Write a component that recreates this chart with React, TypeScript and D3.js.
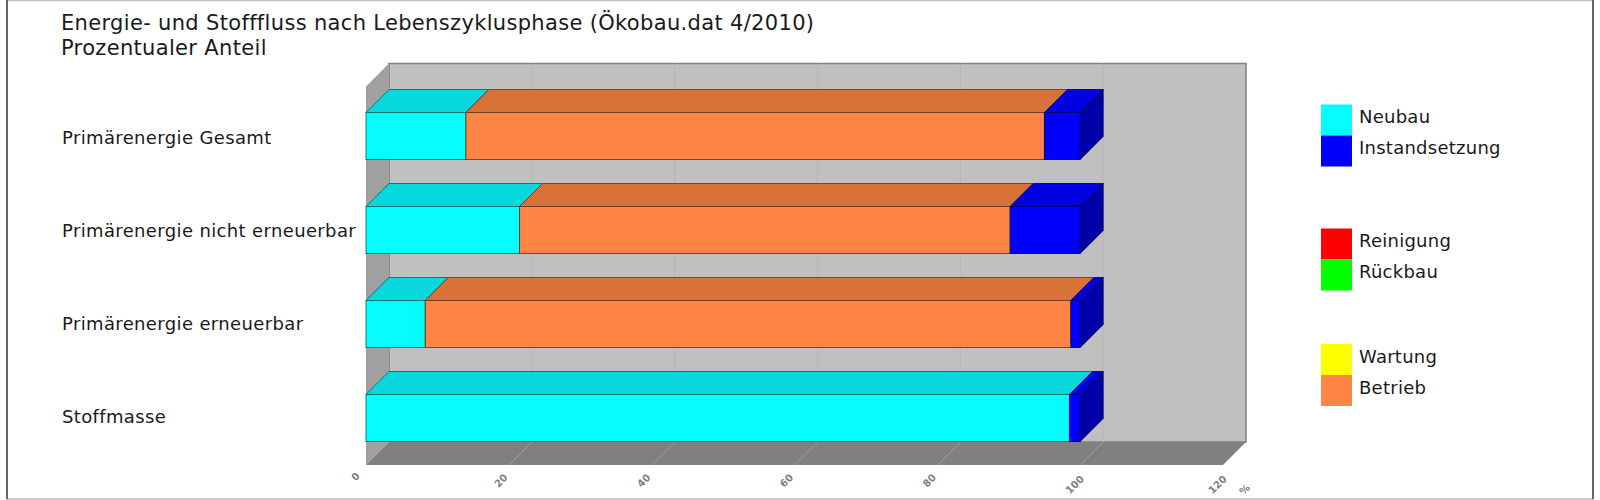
import React from 'react';
import * as d3 from 'd3';

const titleLines = ['Energie- und Stofffluss nach Lebenszyklusphase (Ökobau.dat 4/2010)', 'Prozentualer Anteil'];
const categories = ['Primärenergie Gesamt', 'Primärenergie nicht erneuerbar', 'Primärenergie erneuerbar', 'Stoffmasse'];
const seriesNames = ['Neubau', 'Betrieb', 'Instandsetzung', 'Reinigung', 'Rückbau', 'Wartung'];
const neubau = [14, 21.5, 8.3, 98.5];
const betrieb = [81, 68.7, 90.4, 0];
const instandsetzung = [5, 9.8, 1.3, 1.5];
const reinigung = [0, 0, 0, 0];
const rueckbau = [0, 0, 0, 0];
const wartung = [0, 0, 0, 0];
const xTicks = [0, 20, 40, 60, 80, 100, 120];
const legendGroups = [['Neubau', 'Instandsetzung'], ['Reinigung', 'Rückbau'], ['Wartung', 'Betrieb']];

const colors: Record<string, [string, string, string]> = {
  Neubau: ['#05fdff', '#08d8dc', '#00b0b0'],
  Betrieb: ['#fe8544', '#d97238', '#b05a2c'],
  Instandsetzung: ['#0000ff', '#0000e0', '#0000a8'],
  Reinigung: ['#ff0000', '#d80000', '#a80000'],
  'Rückbau': ['#00ff00', '#00d800', '#00a800'],
  Wartung: ['#ffff00', '#d8d800', '#a8a800'],
};

const FONT = '"DejaVu Sans", Verdana, sans-serif';
const DEPTH = 23;
const WALL_TOP = 86.5;
const x = d3.scaleLinear().domain([0, 120]).range([366, 1223]);
const y = d3.scaleBand<string>().domain(categories).range([89, 465]).paddingInner(0.5).paddingOuter(0.25);
const labelY = d3.scalePoint<string>().domain(categories).range([144, 423]);
const legendY = [104.5, 228.5, 344];
const SWATCH = 31;

const rows = categories.map((c, i) => ({
  category: c,
  Neubau: neubau[i],
  Betrieb: betrieb[i],
  Instandsetzung: instandsetzung[i],
  Reinigung: reinigung[i],
  'Rückbau': rueckbau[i],
  Wartung: wartung[i],
}));
const stacked = d3.stack<any>().keys(seriesNames)(rows);

const poly = (pts: [number, number][]) => d3.line()(pts) + 'Z';
const edge = (c: string) => d3.color(c)!.darker(2.5).formatHex();

export default function App() {
  const [x0, x1] = x.range();
  const y1 = y.range()[1];
  const backTop = WALL_TOP - DEPTH;
  return (
    <svg width={1600} height={500} style={{position: 'absolute', left: 0, top: 0}} fontFamily={FONT}>
      <rect x={7} y={0.5} width={1586} height={498.5} fill="#fff" stroke="#bdbdbd" strokeWidth={1.5} />
      <line x1={7} x2={7} y1={0} y2={499} stroke="#666" strokeWidth={2} />
      <line x1={1593} x2={1593} y1={0} y2={499} stroke="#666" strokeWidth={2} />

      {titleLines.map((t, i) => (
        <text key={t} x={61} y={29.5 + i * 25} fontSize={21} letterSpacing={0.33} fill="#1a1a1a">{t}</text>
      ))}

      {/* walls */}
      <path d={poly([[x0 + DEPTH, backTop], [x1 + DEPTH, backTop], [x1 + DEPTH, y1 - DEPTH], [x0 + DEPTH, y1 - DEPTH]])}
        fill="#c0c0c0" stroke="#808080" strokeWidth={1.5} />
      <path d={poly([[x0, WALL_TOP], [x0 + DEPTH, backTop], [x0 + DEPTH, y1 - DEPTH], [x0, y1]])} fill="#a0a0a0" />
      <path d={poly([[x0 + DEPTH, y1 - DEPTH], [x1 + DEPTH, y1 - DEPTH], [x1, y1], [x0, y1]])} fill="#808080" />
      <path d={poly([[x0, y1], [x0 + DEPTH, y1 - DEPTH], [x0, y1 - DEPTH]])} fill="#a0a0a0" />

      {/* grid */}
      {xTicks.slice(1, -1).map((t) => (
        <g key={t} fill="none" strokeWidth={1}>
          <line x1={x(t) + DEPTH} x2={x(t) + DEPTH} y1={backTop} y2={y1 - DEPTH} stroke="#b6b6b6" />
          <line x1={x(t) + DEPTH} x2={x(t)} y1={y1 - DEPTH} y2={y1} stroke="#9c9c9c" />
        </g>
      ))}

      {/* bars */}
      {categories.map((c, ci) => {
        const top = y(c)!;
        const bottom = top + y.bandwidth();
        const parts = stacked
          .map((s) => ({key: s.key, a: s[ci][0], b: s[ci][1]}))
          .filter((p) => p.b > p.a);
        const last = parts[parts.length - 1];
        return (
          <g key={c} strokeWidth={1}>
            {parts.map((p) => (
              <path key={p.key} fill={colors[p.key][1]} stroke={edge(colors[p.key][0])} strokeOpacity={0.85}
                d={poly([[x(p.a), top], [x(p.a) + DEPTH, top - DEPTH], [x(p.b) + DEPTH, top - DEPTH], [x(p.b), top]])} />
            ))}
            <path fill={colors[last.key][2]} stroke={edge(colors[last.key][0])} strokeOpacity={0.85}
              d={poly([[x(last.b), top], [x(last.b) + DEPTH, top - DEPTH], [x(last.b) + DEPTH, bottom - DEPTH], [x(last.b), bottom]])} />
            {parts.map((p) => (
              <rect key={p.key} x={x(p.a)} y={top} width={x(p.b) - x(p.a)} height={y.bandwidth()}
                fill={colors[p.key][0]} stroke={edge(colors[p.key][0])} strokeOpacity={0.85} />
            ))}
            <text x={62} y={labelY(c)} fontSize={18} letterSpacing={0.36} fill="#1a1a1a">{c}</text>
          </g>
        );
      })}

      {/* tick labels */}
      {xTicks.map((t) => {
        const digits = String(t).length;
        return (
          <text key={t} transform={`translate(${x(t) - 10.5 + digits * 2.5},${y1 + 10 + digits * 4}) rotate(-45)`}
            fontSize={10} fontWeight="bold" textAnchor="middle" fill="#808080">{t}</text>
        );
      })}
      <text transform={`translate(${x(120) + 24},${y1 + 27}) rotate(-45)`} fontSize={10} fontWeight="bold" textAnchor="middle" fill="#808080">%</text>

      {/* legend */}
      {legendGroups.map((group, gi) =>
        group.map((name, i) => (
          <g key={name}>
            <rect x={1321} y={legendY[gi] + i * SWATCH} width={31} height={SWATCH} fill={colors[name][0]} />
            <text x={1359} y={legendY[gi] + i * SWATCH + 18.5} fontSize={18} letterSpacing={0.25} fill="#1a1a1a">{name}</text>
          </g>
        )),
      )}
    </svg>
  );
}
